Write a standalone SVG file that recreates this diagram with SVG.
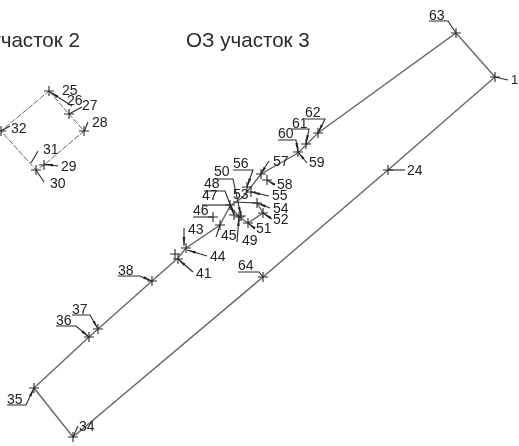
<svg xmlns="http://www.w3.org/2000/svg" width="519" height="446" viewBox="0 0 519 446">
<style>
text{font-family:"Liberation Sans",Arial,sans-serif;fill:#222}
.t{font-size:20.6px;fill:#2a2a2a}
.n text{font-size:14px}
.n path{fill:none;stroke:#2a2a2a;stroke-width:1.1}
.n .a{marker-start:url(#tip)}
#conn path{fill:none;stroke:#666;stroke-width:1.4}
#conn .d{stroke-dasharray:6 1.5;stroke-width:1}
</style>
<defs>
<filter id="b" x="0" y="0" width="100%" height="100%"><feGaussianBlur stdDeviation="0.35"/></filter>
<marker id="tip" markerUnits="userSpaceOnUse" viewBox="-9 -2 9 4" refX="0" refY="0" markerWidth="9" markerHeight="4" orient="auto-start-reverse"><path d="M0 0L-9 -1.3L-9 1.3z" fill="#222"/></marker>
</defs>
<rect width="519" height="446" fill="#fff"/>
<g filter="url(#b)">
<text class="t" x="80" y="47" text-anchor="end">участок 2</text>
<text class="t" x="186" y="47">ОЗ участок 3</text>
<g id="conn">
<path d="M34 388L89 337L98 329L152 281L178 258L186 248L220 225L230 206L243 197L261 174L298 153L318 133L456 33L495 77L388 170L263 277L73 437L34 388"/>
<path d="M230 206L239 217L248 223L263 213L257 203"/>
<path class="d" d="M49 91L69 114L84 131L44 165L36 170L1 131L49 91"/>
</g>
<g class="n" id="n1"><path d="M490 77h10M495 72v10"/><path d="M495 77l13 3"/><text x="511" y="84" style="font-size:13px">1</text></g>
<g class="n" id="n24"><path d="M383 170h10M388 165v10"/><path d="M388 170h17"/><text x="407" y="175">24</text></g>
<g class="n" id="n25"><path d="M44 91h10M49 86v10"/><path class="a" d="M50 92l22 14"/><text x="62" y="95">25</text></g>
<g class="n" id="n26"><text x="67" y="105">26</text></g>
<g class="n" id="n27"><path d="M64 114h10M69 109v10"/><path d="M69 114l13-7"/><text x="82" y="110">27</text></g>
<g class="n" id="n28"><path d="M79 131h10M84 126v10"/><path d="M84 132l4-10"/><text x="92" y="127">28</text></g>
<g class="n" id="n29"><path d="M39 165h10M44 160v10"/><path class="a" d="M44 164l14 2"/><text x="61" y="171">29</text></g>
<g class="n" id="n30"><path d="M31 170h10M36 165v10"/><path d="M36 170l8 12"/><text x="50" y="188">30</text></g>
<g class="n" id="n31"><path d="M31 163l7-12"/><text x="43" y="154">31</text></g>
<g class="n" id="n32"><path d="M-4 131h10M1 126v10"/><path d="M1 131l9-5"/><text x="11" y="133">32</text></g>
<g class="n" id="n34"><path d="M68 437h10M73 432v10"/><path d="M73 437l5-11"/><text x="79" y="431">34</text></g>
<g class="n" id="n35"><path d="M29 388h10M34 383v10"/><path class="a" d="M34 388l-8 17H7"/><text x="7" y="404">35</text></g>
<g class="n" id="n36"><path d="M84 337h10M89 332v10"/><path class="a" d="M89 337l-13-11H56"/><text x="56" y="325">36</text></g>
<g class="n" id="n37"><path d="M93 329h10M98 324v10"/><path class="a" d="M98 329l-8-14H72"/><text x="72" y="314">37</text></g>
<g class="n" id="n38"><path d="M147 281h10M152 276v10"/><path class="a" d="M152 281l-12-5H118"/><text x="118" y="275">38</text></g>
<g class="n" id="n41"><path d="M173 259h10M178 254v10"/><path class="a" d="M178 259l15 13"/><text x="196" y="278">41</text></g>
<g class="n" id="n43"><path d="M170 254h10M175 249v10"/><path class="a" d="M184 246v-18"/><text x="188" y="234">43</text></g>
<g class="n" id="n44"><path d="M181 248h10M186 243v10"/><path class="a" d="M187 250l20 6"/><text x="210" y="261">44</text></g>
<g class="n" id="n45"><path d="M215 225h10M220 220v10"/><path d="M220 225l-4 12"/><text x="221" y="240">45</text></g>
<g class="n" id="n46"><path d="M208 217h10M213 212v10"/><path d="M213 217H193"/><text x="193" y="215">46</text></g>
<g class="n" id="n47"><path d="M225 205h10M230 200v10"/><path d="M230 205H202"/><text x="202" y="200">47</text></g>
<g class="n" id="n48"><path d="M229 215h10M234 210v10"/><path class="a" d="M234 215l-9-24H204"/><text x="204" y="188">48</text></g>
<g class="n" id="n49"><path d="M234 217h10M239 212v10"/><path class="a" d="M239 217l-2 25"/><text x="242" y="245">49</text></g>
<g class="n" id="n50"><path d="M236 216h10M241 211v10"/><path class="a" d="M241 216l-8-37H214"/><text x="214" y="176">50</text></g>
<g class="n" id="n51"><path d="M243 223h10M248 218v10"/><path class="a" d="M248 223l5 4"/><text x="256" y="233">51</text></g>
<g class="n" id="n52"><path d="M258 213h10M263 208v10"/><path class="a" d="M263 213l9 6"/><text x="273" y="224">52</text></g>
<g class="n" id="n53"><path d="M252 203h10M257 198v10"/><path d="M257 203l-24-1"/><text x="233" y="199">53</text></g>
<g class="n" id="n54"><path class="a" d="M257 203l13 5"/><text x="273" y="213">54</text></g>
<g class="n" id="n55"><path d="M246 192h10M251 187v10"/><path class="a" d="M251 192l18 4"/><text x="272" y="200">55</text></g>
<g class="n" id="n56"><path d="M242 187h10M247 182v10"/><path class="a" d="M247 187l6-17H233"/><text x="233" y="168">56</text></g>
<g class="n" id="n57"><path d="M256 174h10M261 169v10"/><path class="a" d="M260 175l9-14"/><text x="273" y="166">57</text></g>
<g class="n" id="n58"><path d="M262 180h10M267 175v10"/><path class="a" d="M267 180l8 5"/><text x="277" y="189">58</text></g>
<g class="n" id="n59"><path d="M293 152h10M298 147v10"/><path class="a" d="M298 152l9 11"/><text x="309" y="167">59</text></g>
<g class="n" id="n60"><path class="a" d="M298 152l-2-12H278"/><text x="278" y="138">60</text></g>
<g class="n" id="n61"><path d="M301 144h10M306 139v10"/><path class="a" d="M306 144l3-15H292"/><text x="292" y="128">61</text></g>
<g class="n" id="n62"><path d="M313 133h10M318 128v10"/><path class="a" d="M318 133l7-14H305"/><text x="305" y="117">62</text></g>
<g class="n" id="n63"><path d="M451 33h10M456 28v10"/><path d="M456 33l-8-12H429"/><text x="429" y="20">63</text></g>
<g class="n" id="n64"><path d="M258 277h10M263 272v10"/><path d="M263 277l-4-5H238"/><text x="238" y="270">64</text></g>
</g>
</svg>
